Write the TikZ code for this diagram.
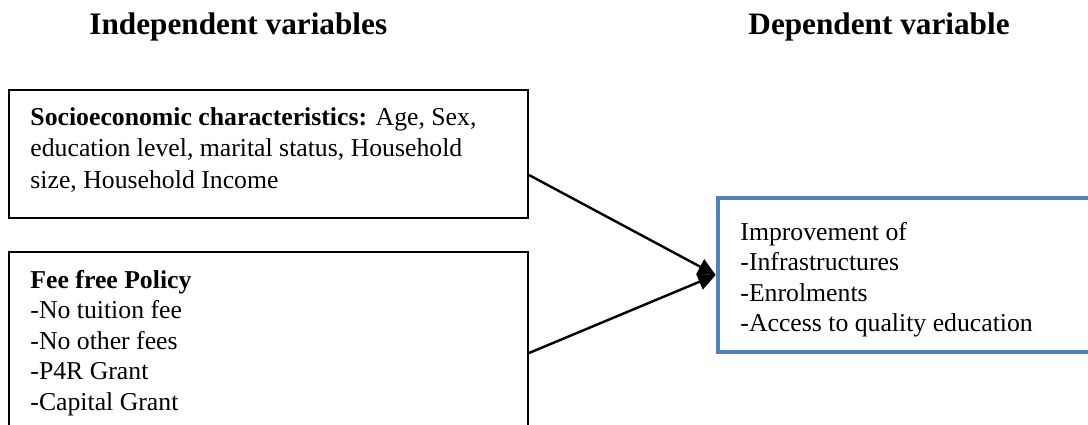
\documentclass[tikz,border=0pt]{standalone}
\usepackage{fontspec}
\setmainfont{Liberation Serif}
\usetikzlibrary{arrows.meta,calc}
\newcommand\pxu{0.4545pt}
\definecolor{boxblue}{RGB}{79,129,189}
\begin{document}
\begin{tikzpicture}[x=0.4545pt,y=-0.4545pt,
 box/.style={draw=black,line width=0.9pt,minimum width=519*\pxu,inner sep=0pt},
 bluebox/.style={draw=boxblue,line width=2.1pt,inner sep=0pt},
 txtA/.style={anchor=base west,inner sep=0pt,font=\fontsize{11.7}{14.5}\selectfont},
 txtB/.style={anchor=base west,inner sep=0pt,font=\fontsize{11.7}{13.9}\selectfont},
 head/.style={anchor=base west,inner sep=0pt,font=\fontsize{14.2}{16}\selectfont\bfseries},
 conn/.style={line width=1.1pt,-{Triangle[length=8pt,width=7.5pt]}}]
\fill[white] (0,0) rectangle (1088,425);
\useasboundingbox (0,0) rectangle (1088,425);
\clip (0,0) rectangle (1088,425);
% headings
\node[head] (h1) at (89,35) {Independent variables};
\node[head] (h2) at (748,35) {Dependent variable};
% boxes
\node[box,minimum height=128*\pxu] (b1) at (268.5,154) {};
\node[box,minimum height=193*\pxu] (b2) at (268.5,348.5) {};
\node[bluebox,minimum width=382*\pxu,minimum height=154*\pxu] (b3) at (909,275) {};
% texts
\node[txtA] (t1) at (30,125) {\begin{tabular}[t]{@{}l@{}}\textbf{Socioeconomic characteristics:} Age, Sex,\\education level, marital status, Household\\size, Household Income\end{tabular}};
\node[txtB] (t2) at (30,288) {\begin{tabular}[t]{@{}l@{}}\textbf{Fee free Policy}\\-No tuition fee\\-No other fees\\-P4R Grant\\-Capital Grant\end{tabular}};
\node[txtB] (t3) at (740,240) {\begin{tabular}[t]{@{}l@{}}Improvement of\\-Infrastructures\\-Enrolments\\-Access to quality education\end{tabular}};
% connectors
\coordinate (s1) at ($(b1.north east)+(0,86)$);
\coordinate (s2) at ($(b2.north east)+(0,102)$);
\draw[conn] (s1) -- (b3.west);
\draw[conn] (s2) -- (b3.west);
\end{tikzpicture}
\end{document}
